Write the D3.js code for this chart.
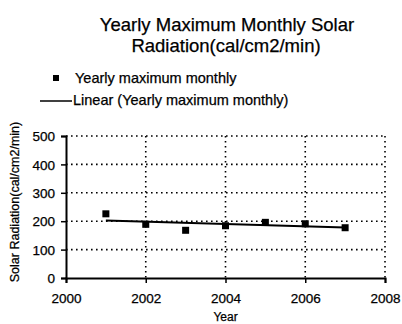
<!DOCTYPE html>
<html>
<head>
<meta charset="utf-8">
<script src="https://cdn.jsdelivr.net/npm/d3@7"></script>
<style>
  html, body { margin: 0; padding: 0; background: #fff; }
  svg { display: block; font-family: "Liberation Sans", Arial, sans-serif; }
  text { fill: #000; stroke: #000; stroke-width: 0.25px; }
</style>
</head>
<body>
<svg id="chart" width="402" height="324"></svg>
<script>
// Yearly maximum monthly solar radiation (cal/cm2/min)
const years = [2001, 2002, 2003, 2004, 2005, 2006, 2007];
const maxMonthly = [226, 189, 168, 184, 196, 191, 177];
const xTicks = [2000, 2002, 2004, 2006, 2008];
const yTicks = [0, 100, 200, 300, 400, 500];

const svg = d3.select("#chart");
const margin = { left: 66, right: 17, top: 136, bottom: 46 };
const W = 402, H = 324;

const x = d3.scaleLinear().domain([2000, 2008]).range([margin.left, W - margin.right]);
const y = d3.scaleLinear().domain([0, 500]).range([H - margin.bottom, margin.top]);

// Title
svg.append("text").attr("x", 227).attr("y", 31).attr("text-anchor", "middle")
  .attr("font-size", 18.5).text("Yearly Maximum Monthly Solar");
svg.append("text").attr("x", 226).attr("y", 52).attr("text-anchor", "middle")
  .attr("font-size", 18.5).text("Radiation(cal/cm2/min)");

// Legend
svg.append("rect").attr("x", 53).attr("y", 75).attr("width", 6).attr("height", 6).attr("fill", "#000");
svg.append("text").attr("x", 75).attr("y", 83).attr("font-size", 14.5).text("Yearly maximum monthly");
svg.append("line").attr("x1", 40).attr("x2", 72).attr("y1", 101).attr("y2", 101)
  .attr("stroke", "#000").attr("stroke-width", 1.5);
svg.append("text").attr("x", 73).attr("y", 105).attr("font-size", 14.5).text("Linear (Yearly maximum monthly)");

// Dotted gridlines
const grid = svg.append("g").attr("stroke", "#000").attr("stroke-width", 1.6)
  .attr("stroke-dasharray", "1.6,3.4");
yTicks.filter(d => d > 0).forEach(d => {
  grid.append("line").attr("x1", x(2000)).attr("x2", x(2008)).attr("y1", y(d)).attr("y2", y(d));
});
xTicks.filter(d => d > 2000).forEach(d => {
  grid.append("line").attr("x1", x(d)).attr("x2", x(d)).attr("y1", y(500)).attr("y2", y(0));
});

// Axes
const yAxis = svg.append("g").attr("transform", `translate(${x(2000)},0)`)
  .call(d3.axisLeft(y).tickValues(yTicks).tickSize(5).tickPadding(6));
const xAxis = svg.append("g").attr("transform", `translate(0,${y(0)})`)
  .call(d3.axisBottom(x).tickValues(xTicks).tickFormat(d3.format("d")).tickSize(5).tickPadding(10));
[yAxis, xAxis].forEach(g => {
  g.select(".domain").attr("stroke", "#000").attr("stroke-width", 2);
  g.selectAll(".tick line").attr("stroke", "#000").attr("stroke-width", 1.5);
  g.selectAll("text").attr("font-size", 13.5).attr("fill", "#000")
    .attr("font-family", "Liberation Sans, Arial, sans-serif");
});
yAxis.selectAll(".tick text").attr("dy", "0.35em");

// Axis titles
svg.append("text").attr("x", x(2004)).attr("y", 321).attr("text-anchor", "middle")
  .attr("font-size", 12).text("Year");
svg.append("text").attr("transform", `translate(19,202) rotate(-90)`)
  .attr("text-anchor", "middle").attr("font-size", 12.5).text("Solar Radiation(cal/cm2/min)");

// Linear trend (least squares fit)
const n = years.length;
const mx = d3.mean(years), my = d3.mean(maxMonthly);
const slope = d3.sum(years, (v, i) => (v - mx) * (maxMonthly[i] - my)) /
              d3.sum(years, v => (v - mx) ** 2);
const intercept = my - slope * mx;
const x0 = years[0], x1 = years[n - 1];
svg.append("line")
  .attr("x1", x(x0)).attr("y1", y(intercept + slope * x0))
  .attr("x2", x(x1)).attr("y2", y(intercept + slope * x1))
  .attr("stroke", "#000").attr("stroke-width", 1.8);

// Data points
svg.append("g").selectAll("rect").data(years).join("rect")
  .attr("x", d => x(d) - 3.5)
  .attr("y", (d, i) => y(maxMonthly[i]) - 3.5)
  .attr("width", 7).attr("height", 7).attr("fill", "#000");
</script>
</body>
</html>
